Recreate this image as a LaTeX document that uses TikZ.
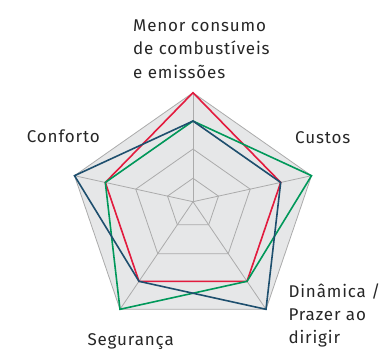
\documentclass[tikz,border=0pt]{standalone}
\usepackage{fontspec}
\setmainfont[LetterSpace=5]{Fira Sans}
\usetikzlibrary{calc}
\definecolor{gridgray}{HTML}{ABABAB}
\definecolor{fillgray}{HTML}{E6E7E8}
\definecolor{redline}{HTML}{E31B3E}
\definecolor{blueline}{HTML}{1E4F6E}
\definecolor{greenline}{HTML}{00985A}
\tikzset{
  gridline/.style={draw=gridgray, line width=0.8pt, line join=miter},
  dataline/.style={line width=1.6pt, line join=miter},
  lab/.style={inner sep=0pt, font=\fontsize{17}{23.3}\selectfont, align=left, anchor=base west, text=black!85}
}
\begin{document}
\begin{tikzpicture}[x=1pt,y=-1pt]
\useasboundingbox (0,0) rectangle (381,350);
% center and outer vertices
\coordinate (C) at (193,201.7);
\coordinate (A1) at (193,92.7);
\coordinate (A2) at (311.5,175.7);
\coordinate (A3) at (266,309.3);
\coordinate (A4) at (120,309.3);
\coordinate (A5) at (74.5,175.7);
% background
\fill[fillgray] (A1) -- (A2) -- (A3) -- (A4) -- (A5) -- cycle;
% rings
\foreach \f in {0.215,0.483,0.74} {
  \draw[gridline] ($(C)!\f!(A1)$) -- ($(C)!\f!(A2)$) -- ($(C)!\f!(A3)$) -- ($(C)!\f!(A4)$) -- ($(C)!\f!(A5)$) -- cycle;
}
\draw[gridline] (A1) -- (A2) -- (A3) -- (A4) -- (A5) -- cycle;
% spokes
\foreach \i in {1,...,5} { \draw[gridline] (C) -- (A\i); }
% data
\def\midf{0.74}
\draw[dataline, redline] (A1) -- ($(C)!\midf!(A2)$) -- ($(C)!\midf!(A3)$) -- ($(C)!\midf!(A4)$) -- ($(C)!\midf!(A5)$) -- cycle;
\draw[dataline, greenline] ($(C)!\midf!(A1)$) -- (A2) -- ($(C)!\midf!(A3)$) -- (A4) -- ($(C)!\midf!(A5)$) -- cycle;
\draw[dataline, blueline] ($(C)!\midf!(A1)$) -- ($(C)!\midf!(A2)$) -- (A3) -- ($(C)!\midf!(A4)$) -- (A5) -- cycle;
% labels
\node[lab] (L1) at (133,78.3) {Menor consumo\\de combustíveis\\e emissões};
\node[lab] (L2) at (295,143.3) {Custos};
\node[lab] (L3) at (288.3,344) {Dinâmica /\\Prazer ao\\dirigir};
\node[lab] (L4) at (87.3,346) {Segurança};
\node[lab] (L5) at (26.7,142.7) {Conforto};
\end{tikzpicture}
\end{document}
